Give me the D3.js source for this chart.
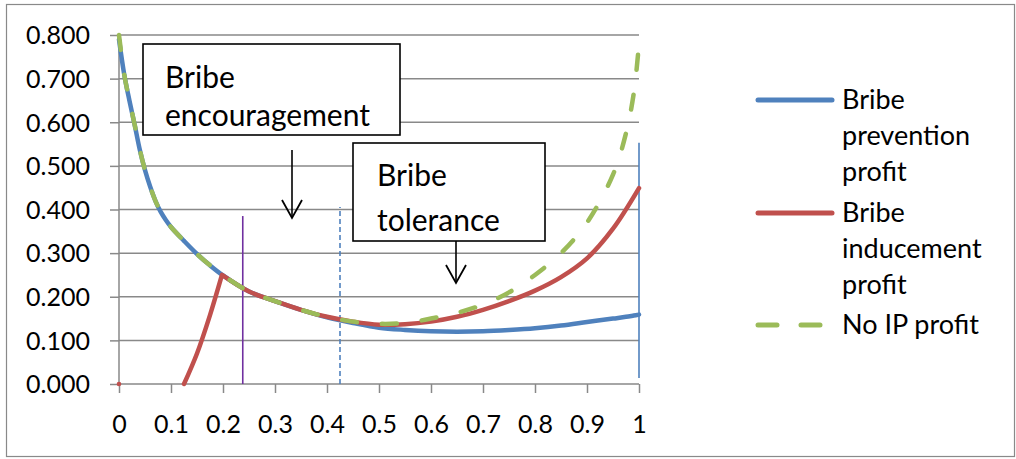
<!DOCTYPE html>
<html>
<head>
<meta charset="utf-8">
<script src="https://cdn.jsdelivr.net/npm/d3@7"></script>
<style>
  body { margin: 0; background: #fff; }
  svg { font-family: Lato, "Open Sans", sans-serif; }
</style>
</head>
<body>
<svg id="chart"></svg>
<script>
// values
const xValues = [0, 0.01, 0.02, 0.03, 0.04, 0.05, 0.06, 0.07, 0.08, 0.09, 0.1, 0.125, 0.15, 0.175, 0.2,
  0.25, 0.3, 0.35, 0.4, 0.45, 0.5, 0.55, 0.6, 0.65, 0.7, 0.75, 0.8, 0.85, 0.9, 0.95, 0.975, 0.99, 1];
const preventionProfit = [0.79, 0.71, 0.65, 0.595, 0.537, 0.49, 0.452, 0.42, 0.395, 0.376, 0.36, 0.328, 0.298, 0.272, 0.249,
  0.212, 0.19, 0.17, 0.153, 0.14, 0.129, 0.124, 0.121, 0.12, 0.121, 0.124, 0.128, 0.134, 0.142, 0.15, 0.154, 0.157, 0.159];
const noIpProfit = [0.8, 0.71, 0.65, 0.595, 0.537, 0.49, 0.452, 0.42, 0.395, 0.376, 0.36, 0.328, 0.298, 0.272, 0.249,
  0.212, 0.19, 0.17, 0.154, 0.143, 0.138, 0.14, 0.15, 0.163, 0.182, 0.21, 0.25, 0.3, 0.37, 0.48, 0.575, 0.667, 0.78];

// inducement: rising branch, then the branch that joins the other curves
const inducementRiseX = [0.125, 0.15, 0.175, 0.198];
const inducementRise = [0, 0.07, 0.158, 0.25];
const inducementX = [0.198, 0.25, 0.3, 0.35, 0.4, 0.45, 0.5, 0.55, 0.6, 0.65,
  0.7, 0.75, 0.8, 0.85, 0.9, 0.95, 1];
const inducementProfit = [0.25, 0.212, 0.19, 0.17, 0.154, 0.143, 0.136, 0.137, 0.143, 0.154,
  0.17, 0.19, 0.214, 0.245, 0.288, 0.356, 0.449];
const inducementLone = [{x: 0, y: 0}];

const xTicks = [0, 0.1, 0.2, 0.3, 0.4, 0.5, 0.6, 0.7, 0.8, 0.9, 1];
const yTicks = [0, 0.1, 0.2, 0.3, 0.4, 0.5, 0.6, 0.7, 0.8];

// vertical marker lines (data units)
const markers = [
  {x: 0.238, y0: 0, y1: 0.385, color: "#7030A0", dash: null},
  {x: 0.425, y0: 0, y1: 0.406, color: "#4F81BD", dash: "5,3"},
  {x: 1.0, y0: 0.014, y1: 0.553, color: "#4F81BD", dash: null}
];

const seriesNames = [["Bribe", "prevention", "profit"], ["Bribe", "inducement", "profit"], ["No IP profit"]];
const colors = ["#4F81BD", "#C0504D", "#9BBB59"];

const W = 1016, H = 459;
const margin = {top: 35, left: 119, right: 377, bottom: 75};

const svg = d3.select("#chart").attr("width", W).attr("height", H);

svg.append("rect")
  .attr("x", 6.5).attr("y", 4.5)
  .attr("width", 1008).attr("height", 452)
  .attr("fill", "#fff").attr("stroke", "#898989").attr("stroke-width", 1.2);

const x = d3.scaleLinear().domain([0, 1]).range([margin.left, W - margin.right]);
const y = d3.scaleLinear().domain([0, 0.8]).range([H - margin.bottom, margin.top]);

// grid lines
svg.append("g")
  .selectAll("line")
  .data(yTicks.filter(d => d > 0))
  .join("line")
  .attr("x1", x(0)).attr("x2", x(1))
  .attr("y1", d => y(d)).attr("y2", d => y(d))
  .attr("stroke", "#898989").attr("stroke-width", 1.5);

// axes
const yAxis = d3.axisLeft(y).tickValues(yTicks).tickFormat(d3.format(".3f")).tickSize(9).tickPadding(20);
const xAxis = d3.axisBottom(x).tickValues(xTicks).tickFormat(d => d === 0 || d === 1 ? String(d) : d3.format(".1f")(d)).tickSize(9).tickPadding(22);

const gy = svg.append("g").attr("transform", `translate(${x(0)},0)`).call(yAxis);
const gx = svg.append("g").attr("transform", `translate(0,${y(0)})`).call(xAxis);
[gx, gy].forEach(g => {
  g.select(".domain").attr("stroke", "#898989").attr("stroke-width", 1.5);
  g.selectAll(".tick line").attr("stroke", "#898989").attr("stroke-width", 1.5);
  g.selectAll(".tick text").attr("fill", "#000").style("font-size", "25px").style("font-family", "Lato, sans-serif");
});
gy.select(".domain").attr("d", `M0,${y(0)}V${y(0.8)}`);
gy.selectAll(".tick text").attr("dy", "0.35em");
gx.selectAll(".tick text").attr("dy", "0.72em");
gx.select(".domain").attr("d", `M${x(0)},0H${x(1)}`);

// marker lines
svg.append("g")
  .selectAll("line")
  .data(markers)
  .join("line")
  .attr("x1", d => x(d.x)).attr("x2", d => x(d.x))
  .attr("y1", d => y(d.y0)).attr("y2", d => y(d.y1))
  .attr("stroke", d => d.color).attr("stroke-width", 1.6)
  .attr("stroke-dasharray", d => d.dash);

const line = d3.line().x(d => x(d[0])).y(d => y(d[1])).curve(d3.curveCatmullRom.alpha(0.5));

svg.append("path")
  .attr("d", line(d3.zip(xValues, preventionProfit)))
  .attr("fill", "none").attr("stroke", colors[0]).attr("stroke-width", 4.5)
  .attr("stroke-linecap", "round");

svg.append("path")
  .attr("d", line(d3.zip(inducementRiseX, inducementRise)) + line(d3.zip(inducementX, inducementProfit)))
  .attr("fill", "none").attr("stroke", colors[1]).attr("stroke-width", 4.5)
  .attr("stroke-linecap", "round").attr("stroke-linejoin", "round");

svg.selectAll(".lone")
  .data(inducementLone)
  .join("circle")
  .attr("cx", d => x(d.x)).attr("cy", d => y(d.y)).attr("r", 2.3)
  .attr("fill", colors[1]);

svg.append("path")
  .attr("d", line(d3.zip(xValues, noIpProfit)))
  .attr("fill", "none").attr("stroke", colors[2]).attr("stroke-width", 4.5)
  .attr("stroke-linecap", "round").attr("stroke-dasharray", "15,25");

// annotation boxes
const notes = [
  {x: 143, y: 44, w: 257, h: 91, lines: ["Bribe", "encouragement"], lh: 38, ty: 77, tx: 165, ax: 292, a0: 150, a1: 218},
  {x: 353, y: 143, w: 192, h: 98, lines: ["Bribe", "tolerance"], lh: 45, ty: 175, tx: 377, ax: 456, a0: 241, a1: 283}
];
const ng = svg.append("g");
notes.forEach(n => {
  ng.append("rect").attr("x", n.x).attr("y", n.y).attr("width", n.w).attr("height", n.h)
    .attr("fill", "#fff").attr("stroke", "#000").attr("stroke-width", 1.6);
  n.lines.forEach((t, i) => {
    ng.append("text").attr("x", n.tx).attr("y", n.ty + i * n.lh).attr("dy", "0.35em")
      .style("font-size", "30px").text(t);
  });
  ng.append("line").attr("x1", n.ax).attr("x2", n.ax).attr("y1", n.a0).attr("y2", n.a1)
    .attr("stroke", "#000").attr("stroke-width", 1.6);
  ng.append("path").attr("d", `M${n.ax - 10},${n.a1 - 18}L${n.ax},${n.a1}L${n.ax + 10},${n.a1 - 18}`)
    .attr("fill", "none").attr("stroke", "#000").attr("stroke-width", 1.8);
});

// legend
const legendY = [100, 213, 325];
const lg = svg.append("g");
seriesNames.forEach((names, i) => {
  const ly = legendY[i];
  lg.append("line").attr("x1", 758).attr("x2", 832).attr("y1", ly).attr("y2", ly)
    .attr("stroke", colors[i]).attr("stroke-width", 5).attr("stroke-linecap", "round")
    .attr("stroke-dasharray", i === 2 ? "19,24" : null);
  names.forEach((t, j) => {
    lg.append("text").attr("x", 842).attr("y", ly + j * 36).attr("dy", "0.35em")
      .style("font-size", "27px").text(t);
  });
});
</script>
</body>
</html>
